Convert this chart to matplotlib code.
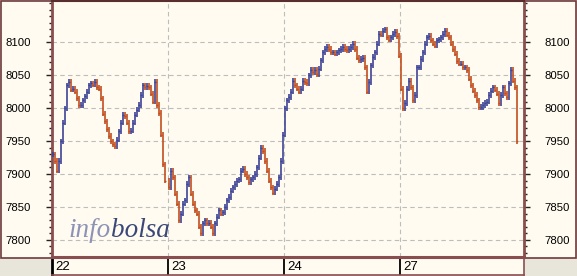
import matplotlib
matplotlib.use("Agg")
import matplotlib.pyplot as plt
import numpy as np
from matplotlib.patches import Rectangle
from matplotlib.ticker import MultipleLocator

# ---- data (closing prices, one value every ~2 px of the original) ----
day_labels = ["22", "23", "24", "27"]
close_22 = [7930, 7920, 7905, 7920, 7950, 7978, 8000, 8035, 8040, 8028,
            8030, 8025, 8015, 8005, 8005, 8012, 8018, 8025, 8035, 8038,
            8036, 8040, 8032, 8030, 8015, 7992, 7980, 7968, 7958, 7950,
            7945, 7942, 7952, 7965, 7978, 7990, 7988, 7978, 7965, 7966,
            7978, 7990, 7998, 8005, 8020, 8035, 8032, 8034, 8032, 8022,
            8010, 8040, 8005, 7993, 7960, 7915, 7890]
close_23 = [7880, 7905, 7895, 7870, 7855, 7830, 7840, 7855, 7860, 7885,
            7895, 7870, 7855, 7845, 7840, 7820, 7810, 7825, 7830, 7825,
            7826, 7820, 7810, 7825, 7835, 7845, 7840, 7842, 7850, 7860,
            7865, 7875, 7880, 7885, 7890, 7892, 7905, 7908, 7900, 7895,
            7888, 7892, 7895, 7900, 7910, 7925, 7940, 7935, 7920, 7905,
            7890, 7880, 7872, 7878, 7885, 7895, 7920, 7960]
close_24 = [8000, 8012, 8017, 8025, 8042, 8035, 8030, 8025, 8030, 8042,
            8040, 8038, 8050, 8058, 8055, 8058, 8052, 8060, 8073, 8085,
            8090, 8093, 8090, 8085, 8085, 8083, 8085, 8088, 8090, 8093,
            8090, 8088, 8090, 8093, 8098, 8090, 8077, 8073, 8075, 8077,
            8062, 8025, 8040, 8065, 8078, 8085, 8098, 8113, 8112, 8118,
            8120, 8108, 8104, 8108, 8113, 8116, 8110, 8080]
close_27 = [8030, 8000, 8008, 8030, 8042, 8032, 8012, 8020, 8062, 8062,
            8075, 8085, 8098, 8108, 8110, 8103, 8098, 8095, 8103, 8105,
            8108, 8113, 8118, 8112, 8108, 8098, 8090, 8083, 8072, 8068,
            8068, 8062, 8062, 8058, 8045, 8035, 8027, 8020, 8012, 8002,
            8002, 8005, 8008, 8010, 8020, 8027, 8032, 8028, 8022, 8008,
            8020, 8032, 8023, 8017, 8038, 8058, 8042, 8032, 7950]
days = [close_22, close_23, close_24, close_27]
y_ticks = [7800, 7850, 7900, 7950, 8000, 8050, 8100]

BARS_PER_DAY = 58
W, H = 577, 276

fig = plt.figure(figsize=(W / 100, H / 100), dpi=100)
fig.patch.set_facecolor("#E8E6DA")

def fx(px):
    return px / W

def fy(py):
    return 1 - py / H

cream = "#FFFBF0"
brown = "#8A4E4E"

# outer panel
panel = Rectangle((fx(0.5), fy(257.5)), fx(575.5), fy(0.5) - fy(257.5),
                  transform=fig.transFigure, facecolor=cream,
                  edgecolor="#6E3A3A", lw=1.2, zorder=-10)
fig.patches.append(panel)

ax = fig.add_axes([fx(52), fy(257), fx(524) - fx(52), fy(1) - fy(257)])
ax.set_zorder(1)
ax.set_facecolor(cream)

t_all, c_all = [], []
for d, vals in enumerate(days):
    for i, v in enumerate(vals):
        t_all.append(d * BARS_PER_DAY + i + 0.5)
        c_all.append(v)
t_all = np.array(t_all)
c_all = np.array(c_all, dtype=float)
o_all = np.concatenate([[c_all[0]], c_all[:-1]])

blue = "#3E4496"
red = "#C24E1E"
up = c_all >= o_all
lo = np.minimum(o_all, c_all) - 4
hi = np.maximum(o_all, c_all) + 4
ax.vlines(t_all[up], lo[up], hi[up], color=blue, lw=1.2, zorder=3)
ax.vlines(t_all[~up], lo[~up], hi[~up], color=red, lw=1.2, zorder=3)
ax.hlines(c_all[up], t_all[up] - 0.7, t_all[up] + 0.7, color=blue, lw=1.0, zorder=3)
ax.hlines(c_all[~up], t_all[~up] - 0.7, t_all[~up] + 0.7, color=red, lw=1.0, zorder=3)

ax.set_xlim(0, 236)
ax.set_ylim(7774, 8163)

# grid
for y in y_ticks:
    ax.axhline(y, color="#BDBDBD", lw=0.8, ls=(0, (4, 3)), zorder=1)
for d in range(1, len(days)):
    ax.axvline(d * BARS_PER_DAY, color="#BDBDBD", lw=0.8, ls=(0, (4, 3)), zorder=1)

ax.set_xticks([])
ax.set_yticks(y_ticks)
ax.yaxis.set_minor_locator(MultipleLocator(10))
ax.tick_params(axis="y", which="major", direction="out", length=4, width=1,
               color="#222222", left=True, right=True, labelleft=True,
               labelright=True, labelsize=8.2, pad=11)
ax.tick_params(axis="y", which="minor", direction="out", length=2, width=1,
               color="#222222", left=True, right=True)
for lab in ax.get_yticklabels():
    lab.set_fontfamily("Liberation Sans")
for side in ["left", "right"]:
    ax.spines[side].set_color(brown)
    ax.spines[side].set_linewidth(2)
ax.spines["top"].set_color("#5A2E2E")
ax.spines["top"].set_linewidth(1.5)
ax.spines["bottom"].set_color(brown)
ax.spines["bottom"].set_linewidth(2.2)

# watermark
r = fig.canvas.get_renderer()
t1 = ax.text(0.034, 0.078, "info", transform=ax.transAxes, fontsize=19.5,
             family="Liberation Serif", style="italic", color="#8C93B6",
             va="baseline", ha="left", zorder=2)
bb = t1.get_window_extent(renderer=r)
x_end = ax.transAxes.inverted().transform((bb.x1, bb.y0))[0]
ax.text(x_end + 0.002, 0.078, "bolsa", transform=ax.transAxes, fontsize=19.5,
        family="Liberation Serif", style="italic", color="#3A4778",
        va="baseline", ha="left", zorder=2)

# date strip
ax2 = fig.add_axes([fx(52), fy(275), fx(524) - fx(52), fy(258) - fy(275)])
ax2.set_facecolor(cream)
ax2.set_xlim(0, 236)
ax2.set_ylim(0, 1)
ax2.set_xticks([])
ax2.set_yticks([])
for side in ["bottom", "right"]:
    ax2.spines[side].set_color(brown)
    ax2.spines[side].set_linewidth(1.2)
ax2.spines["top"].set_visible(False)
ax2.spines["left"].set_color("black")
ax2.spines["left"].set_linewidth(2)
for d, lab in enumerate(day_labels):
    x0 = d * BARS_PER_DAY
    ax2.axvline(x0, color="black", lw=1.3)
    ax2.text(x0 + 1.5, 0.45, lab, fontsize=9.5, family="Liberation Sans",
             va="center", ha="left", color="black")

fig.savefig("out.png", dpi=100, facecolor=fig.get_facecolor())
